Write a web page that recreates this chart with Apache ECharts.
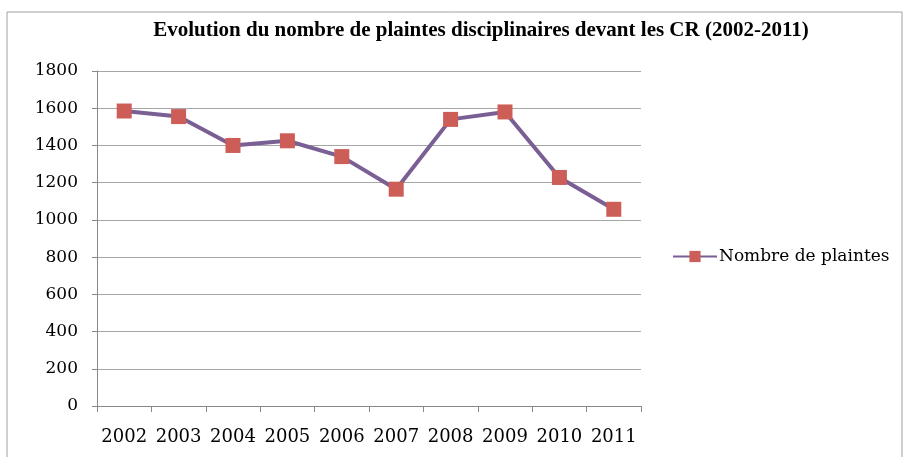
<!DOCTYPE html>
<html>
<head>
<meta charset="utf-8">
<script src="https://cdn.jsdelivr.net/npm/echarts@6/dist/echarts.min.js"></script>
<style>
  html, body { margin: 0; padding: 0; background: #fff; }
  #chart { width: 903px; height: 457px; }
</style>
</head>
<body>
<div id="chart"></div>
<script>
const years = ["2002", "2003", "2004", "2005", "2006", "2007", "2008", "2009", "2010", "2011"];
const plaintes = [1585, 1555, 1400, 1425, 1340, 1165, 1540, 1580, 1228, 1057];
const seriesName = "Nombre de plaintes";
const titleText = "Evolution du nombre de plaintes disciplinaires devant les CR (2002-2011)";

const chart = echarts.init(document.getElementById("chart"));

chart.setOption({
  animation: false,
  title: {
    text: titleText,
    left: 476,
    textAlign: "center",
    top: 15,
    textStyle: { fontFamily: "Liberation Serif, serif", fontSize: 21, fontWeight: "bold", color: "#000" },
  },
  graphic: [
    {
      type: "rect",
      shape: { x: 7, y: 12, width: 895, height: 460 },
      style: { fill: "none", stroke: "#a0a0a0", lineWidth: 1 },
      silent: true,
    },
  ],
  legend: {
    data: [seriesName],
    left: 672,
    top: 248,
    padding: 0,
    itemWidth: 44,
    itemHeight: 14,
    textStyle: { fontFamily: "DejaVu Serif, serif", fontSize: 17, color: "#000", padding: [0, 0, 0, -3] },
  },
  grid: { left: 97, right: 262, top: 71, bottom: 51 },
  xAxis: {
    type: "category",
    data: years,
    boundaryGap: true,
    axisLine: { lineStyle: { color: "#888", width: 1 } },
    axisTick: { show: true, length: 6, lineStyle: { color: "#888" } },
    axisLabel: { interval: 0, fontSize: 18, color: "#000", margin: 22, fontFamily: "DejaVu Serif, serif" },
  },
  yAxis: {
    type: "value",
    min: 0,
    max: 1800,
    interval: 200,
    axisLine: { show: true, lineStyle: { color: "#888", width: 1 } },
    axisTick: { show: true, length: 5, lineStyle: { color: "#888" } },
    axisLabel: {
      fontSize: 17,
      color: "#000",
      margin: 19,
      fontFamily: "DejaVu Serif, serif",
      formatter: (v) => String(v),
    },
    splitLine: { lineStyle: { color: "#a6a6a6", width: 1.2 } },
  },
  series: [
    {
      name: seriesName,
      type: "line",
      data: plaintes,
      symbol: "rect",
      symbolSize: 15,
      lineStyle: { color: "#7a5f94", width: 4 },
      itemStyle: { color: "#cc5e57", borderWidth: 0 },
    },
  ],
});
</script>
</body>
</html>
